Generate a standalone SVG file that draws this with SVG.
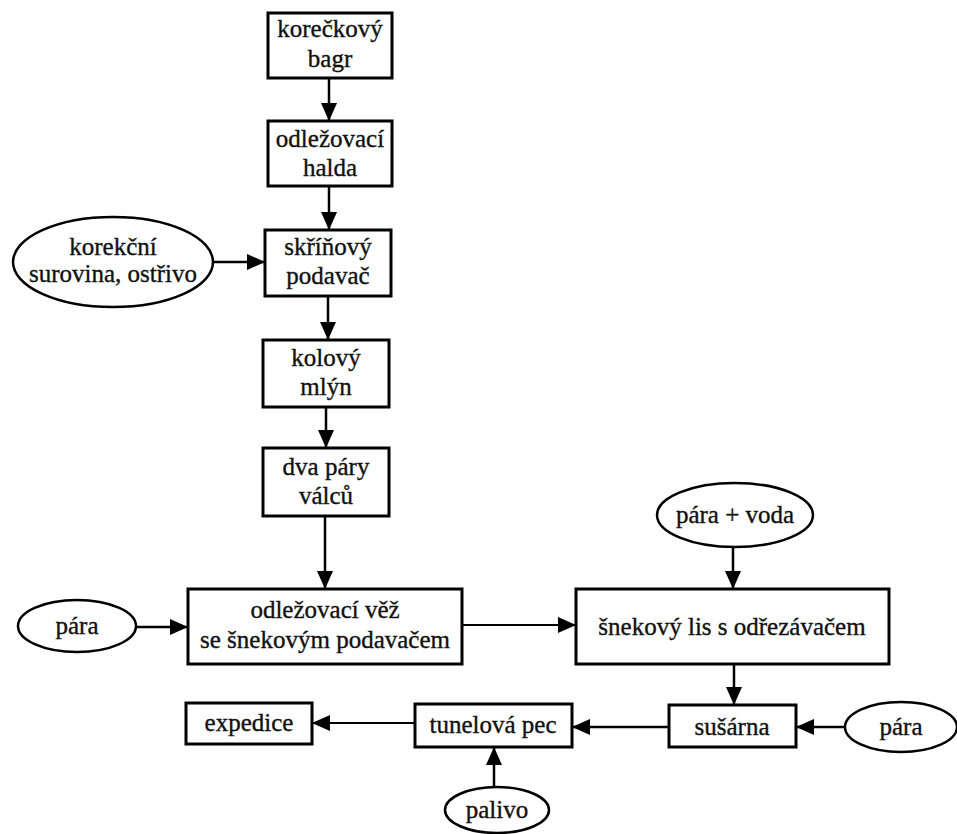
<svg xmlns="http://www.w3.org/2000/svg" width="957" height="834" viewBox="0 0 957 834">
<style>
.box{fill:#fff;stroke:#000;stroke-width:3}
.ell{fill:#fff;stroke:#000;stroke-width:2.5}
text{font-family:'Liberation Serif','DejaVu Serif','Noto Serif',Tinos,'Times New Roman',Times,serif;font-size:25px;fill:#111;stroke:#111;stroke-width:0.35;text-anchor:middle}
.c{stroke:#000;stroke-width:2.5;fill:none;marker-end:url(#ah)}
.thin{stroke-width:1.8}
</style>
<defs>
<marker id="ah" viewBox="0 0 18 16" refX="18" refY="8" markerWidth="18" markerHeight="16" markerUnits="userSpaceOnUse" orient="auto">
<path d="M0,0 L18,8 L0,16 Z" fill="#000"/>
</marker>
</defs>
<rect width="957" height="834" fill="#fff"/>
<g id="connectors">
<line class="c" x1="329" y1="78" x2="329" y2="121"/>
<line class="c" x1="329" y1="186" x2="329" y2="230"/>
<line class="c" x1="213" y1="262" x2="265" y2="262"/>
<line class="c" x1="328" y1="296" x2="328" y2="340"/>
<line class="c" x1="326" y1="407" x2="326" y2="448"/>
<line class="c" x1="325" y1="516" x2="325" y2="589"/>
<line class="c" x1="136" y1="627" x2="188" y2="627"/>
<line class="c thin" x1="462" y1="625" x2="576" y2="625"/>
<line class="c" x1="733" y1="547" x2="733" y2="589"/>
<line class="c" x1="734" y1="664" x2="734" y2="705"/>
<line class="c" x1="845" y1="727" x2="796" y2="727"/>
<line class="c" x1="669" y1="727" x2="572" y2="727"/>
<line class="c thin" x1="415" y1="723" x2="312" y2="723"/>
<line class="c" x1="494" y1="787" x2="494" y2="747"/>
</g>
<g id="korecKovy-bagr">
<rect class="box" x="268" y="13" width="124" height="65"/>
<text x="330" y="37">korečkový</text>
<text x="330" y="67">bagr</text>
</g>
<g id="odlezovaci-halda">
<rect class="box" x="268" y="121" width="124" height="65"/>
<text x="330" y="147">odležovací</text>
<text x="330" y="176">halda</text>
</g>
<g id="korekcni-surovina">
<ellipse class="ell" cx="113" cy="262" rx="100" ry="45"/>
<text x="113" y="255">korekční</text>
<text x="113" y="282">surovina, ostřivo</text>
</g>
<g id="skrinovy-podavac">
<rect class="box" x="265" y="230" width="126" height="66"/>
<text x="328" y="255">skříňový</text>
<text x="328" y="284">podavač</text>
</g>
<g id="kolovy-mlyn">
<rect class="box" x="263" y="340" width="126" height="67"/>
<text x="326" y="366">kolový</text>
<text x="326" y="395">mlýn</text>
</g>
<g id="dva-pary-valcu">
<rect class="box" x="263" y="448" width="126" height="68"/>
<text x="326" y="475">dva páry</text>
<text x="326" y="504">válců</text>
</g>
<g id="para-left">
<ellipse class="ell" cx="77" cy="626" rx="59" ry="26"/>
<text x="77" y="634">pára</text>
</g>
<g id="odlezovaci-vez">
<rect class="box" x="188" y="589" width="274" height="75"/>
<text x="325" y="618">odležovací věž</text>
<text x="325" y="648">se šnekovým podavačem</text>
</g>
<g id="para-voda">
<ellipse class="ell" cx="735" cy="515" rx="78" ry="32"/>
<text x="735" y="523">pára + voda</text>
</g>
<g id="snekovy-lis">
<rect class="box" x="576" y="589" width="313" height="75"/>
<text x="732" y="635">šnekový lis s odřezávačem</text>
</g>
<g id="susarna">
<rect class="box" x="669" y="705" width="127" height="42"/>
<text x="732" y="735">sušárna</text>
</g>
<g id="para-right">
<ellipse class="ell" cx="901" cy="727" rx="56" ry="25"/>
<text x="901" y="735">pára</text>
</g>
<g id="tunelova-pec">
<rect class="box" x="415" y="704" width="157" height="43"/>
<text x="493" y="733">tunelová pec</text>
</g>
<g id="expedice">
<rect class="box" x="186" y="703" width="126" height="41"/>
<text x="249" y="731">expedice</text>
</g>
<g id="palivo">
<ellipse class="ell" cx="497" cy="810" rx="52" ry="23"/>
<text x="497" y="818">palivo</text>
</g>
</svg>
